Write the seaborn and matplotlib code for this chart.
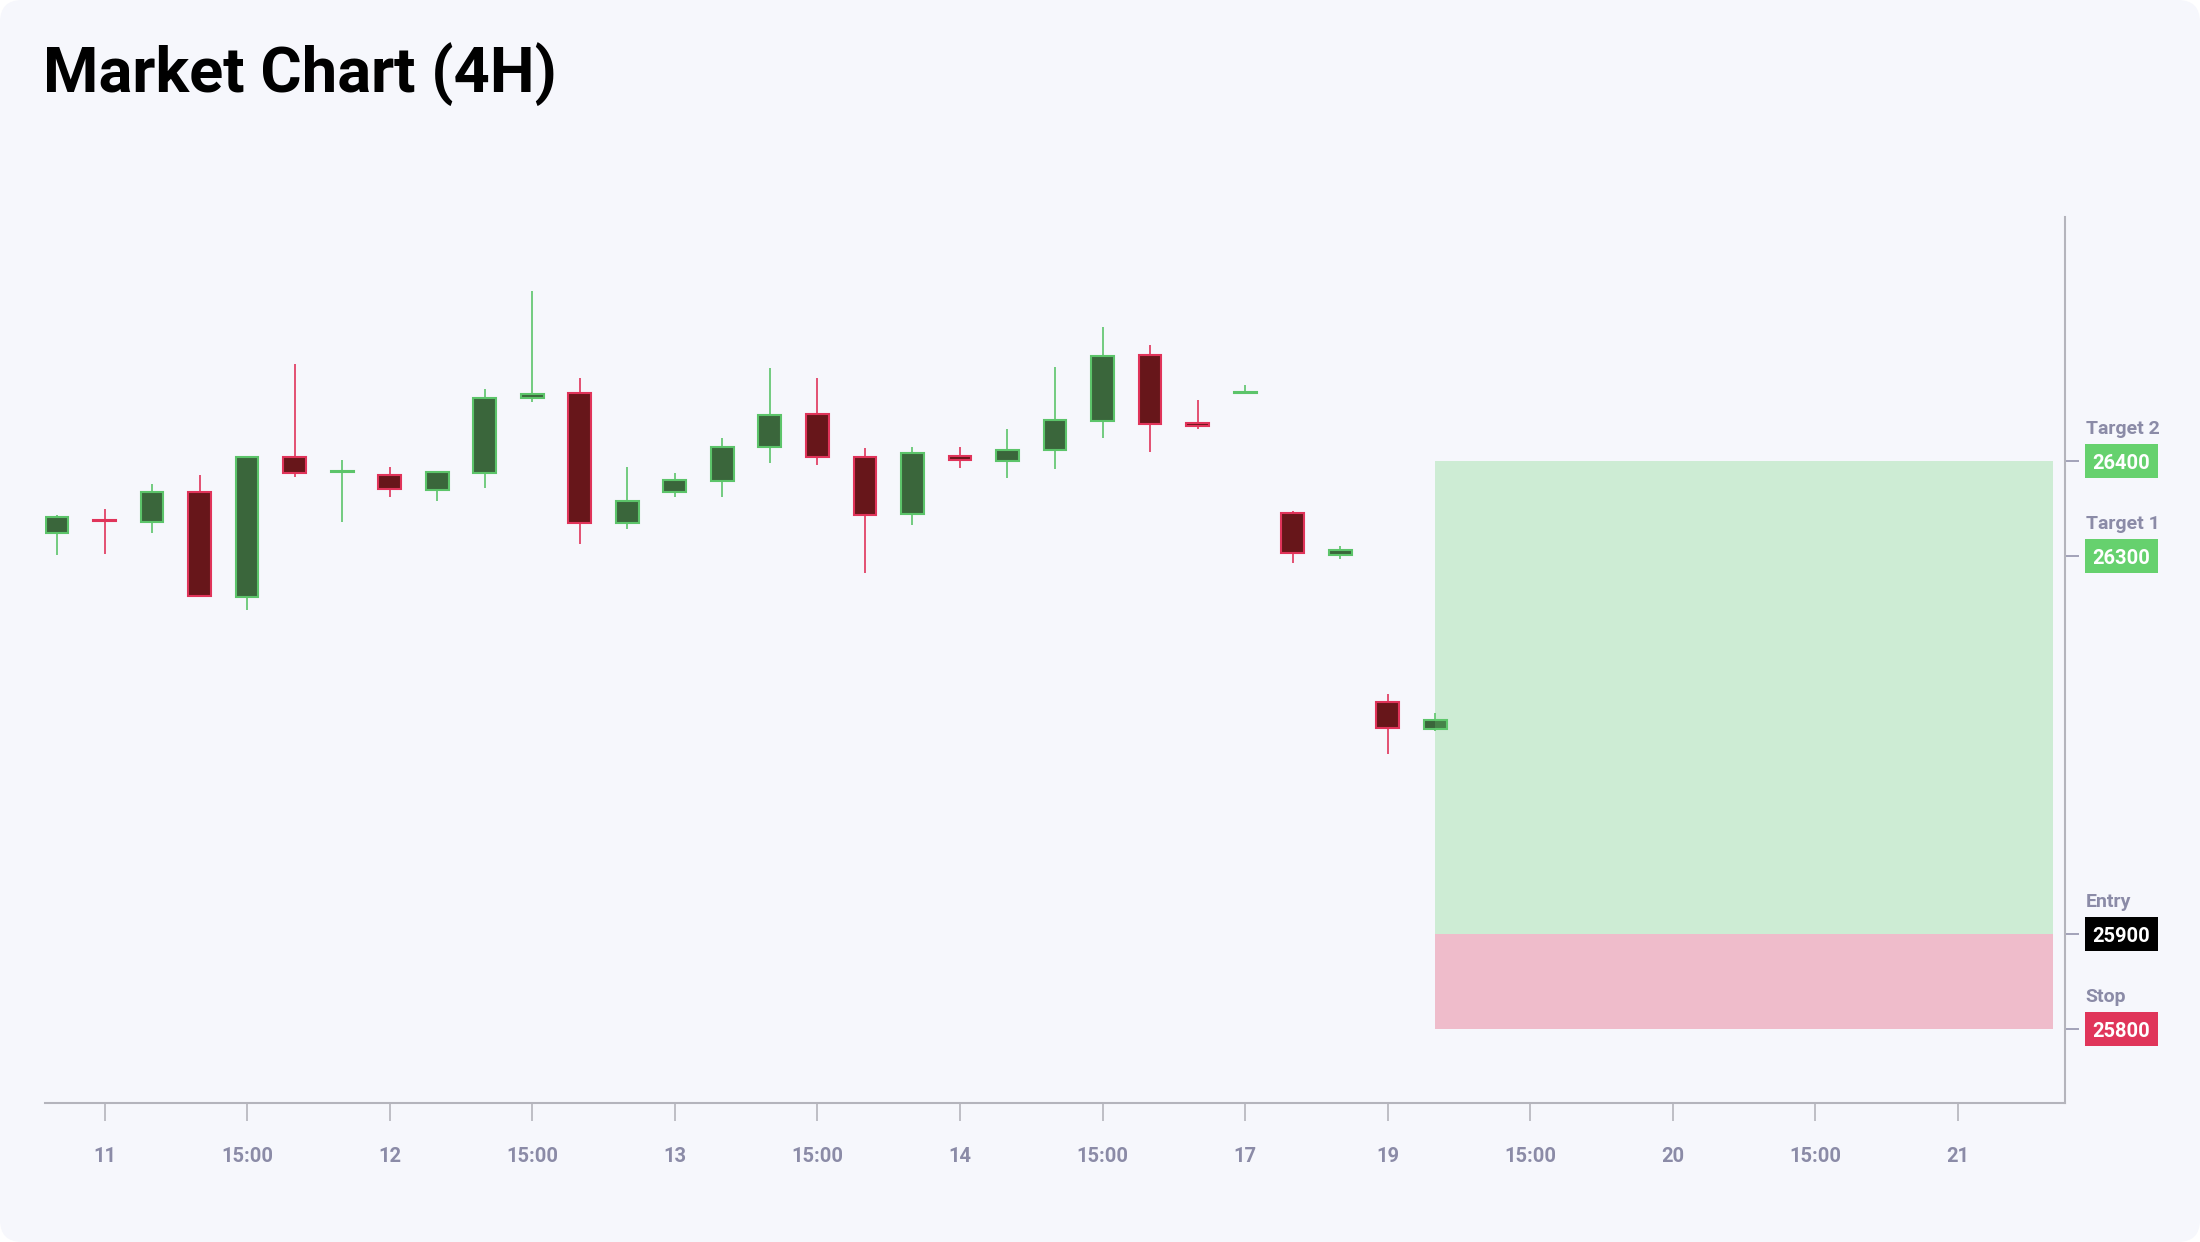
import numpy as np
import matplotlib
matplotlib.use("Agg")
import matplotlib.pyplot as plt
import matplotlib.transforms as mtransforms
from matplotlib.patches import FancyBboxPatch, Rectangle
import seaborn as sns

# --- data (4H candles, ordinal x axis) ---
opens = [26324, 26338, 26336, 26368, 26257, 26404, 26389, 26385, 26370, 26388,
         26467, 26472, 26335, 26367, 26379, 26415, 26450, 26405, 26344, 26406,
         26400, 26412, 26443, 26512, 26440, 26472, 26345, 26301, 26145, 26117]
highs = [26343, 26350, 26376, 26385, 26406, 26503, 26401, 26394, 26389, 26476,
         26580, 26488, 26394, 26388, 26425, 26499, 26488, 26414, 26415, 26415,
         26434, 26500, 26542, 26523, 26465, 26481, 26347, 26310, 26154, 26134]
lows = [26301, 26302, 26324, 26256, 26243, 26383, 26336, 26362, 26358, 26372,
        26463, 26313, 26328, 26362, 26362, 26398, 26396, 26282, 26333, 26393,
        26382, 26392, 26425, 26410, 26434, 26471, 26292, 26297, 26091, 26115]
closes = [26341, 26337, 26368, 26258, 26404, 26388, 26390, 26371, 26389, 26467,
          26471, 26335, 26358, 26380, 26415, 26449, 26404, 26343, 26409, 26401,
          26412, 26444, 26511, 26439, 26437, 26473, 26303, 26306, 26118, 26126]

tick_labels = ["11", "15:00", "12", "15:00", "13", "15:00", "14", "15:00",
               "17", "19", "15:00", "20", "15:00", "21"]

level_names = ["Target 2", "Target 1", "Entry", "Stop"]
level_values = [26400, 26300, 25900, 25800]
level_colors = ["#66d16e", "#66d16e", "#000000", "#e0355a"]

entry_price = 25900
target_price = 26400
stop_price = 25800
box_start, box_end = 29, 42

# --- style ---
BG = "#f6f7fc"
MUTED = "#8b8ba7"
AXIS = "#b4b4bc"
UP_EDGE, UP_FILL = "#5cc46a", "#3a663b"
DOWN_EDGE, DOWN_FILL = "#e0345a", "#67161a"

sns.set_theme(style="white")
plt.rcParams["font.family"] = ["Roboto", "DejaVu Sans"]

fig = plt.figure(figsize=(22, 12.42), dpi=100)
fig.patch.set_facecolor("white")
fig.patches.append(FancyBboxPatch((0, 0), 2200, 1242,
                                  boxstyle="round,pad=0,rounding_size=22",
                                  transform=None, facecolor=BG,
                                  edgecolor="none", zorder=-5))

ax = fig.add_axes([0.0205, 0.1123, 0.9181, 0.7128])
ax.set_facecolor("none")
ax.set_zorder(2)

x = np.arange(len(opens))
o = np.array(opens)
c = np.array(closes)
up = c >= o
edge_cols = np.where(up, UP_EDGE, DOWN_EDGE)
fill_cols = np.where(up, UP_FILL, DOWN_FILL)

# wicks
ax.vlines(x, lows, highs, colors=edge_cols, linewidth=1.2, zorder=2)
# bodies
ax.bar(x, np.abs(c - o), bottom=np.minimum(o, c), width=0.48,
       color=fill_cols, edgecolor=edge_cols, linewidth=1.5, zorder=3)

# long position zones
ax.fill_between([box_start, box_end], entry_price, target_price,
                color="#66d16e", alpha=0.28, linewidth=0, zorder=4)
ax.fill_between([box_start, box_end], stop_price, entry_price,
                color="#e0355a", alpha=0.3, linewidth=0, zorder=4)

ax.set_xlim(-0.25, 42.25)
ax.set_ylim(25722, 26658)

sns.despine(ax=ax, left=True, top=True, right=False, bottom=False)
for side in ("right", "bottom"):
    ax.spines[side].set_color(AXIS)
    ax.spines[side].set_linewidth(1.5)

# x axis
ax.set_xticks(np.arange(1, 1 + 3 * len(tick_labels), 3))
ax.set_xticklabels(tick_labels)
ax.tick_params(axis="x", bottom=True, top=False, direction="out", length=13,
               width=1.2, color=AXIS, pad=19, labelsize=14.5,
               labelcolor=MUTED)
for lbl in ax.get_xticklabels():
    lbl.set_fontweight("semibold")

# y axis on the right, labels drawn as coloured boxes
ax.set_yticks(level_values, labels=[""] * len(level_values))
ax.tick_params(axis="y", right=True, left=False, direction="out", length=10,
               width=1.1, color=MUTED, labelright=False, labelleft=False)

trans = mtransforms.blended_transform_factory(ax.transAxes, ax.transData)
bx, bw, bh = 1.0099, 0.0361, 35.6
for name, val, col in zip(level_names, level_values, level_colors):
    ax.add_patch(Rectangle((bx, val - bh / 2), bw, bh, transform=trans,
                           facecolor=col, edgecolor="none", clip_on=False))
    ax.text(bx + bw / 2, val - 8.3, f"{val}", transform=trans, ha="center",
            va="baseline", color="white", fontsize=14.5, fontweight="bold")
    ax.text(bx + 0.0004, val + 28.8, name, transform=trans, ha="left",
            va="baseline", color=MUTED, fontsize=14, fontweight="semibold")

fig.text(0.0195, 0.9262, "Market Chart (4H)", ha="left", va="baseline",
         fontsize=45.5, fontweight="bold", color="black")

fig.savefig("out.png", dpi=100, facecolor=fig.get_facecolor())
